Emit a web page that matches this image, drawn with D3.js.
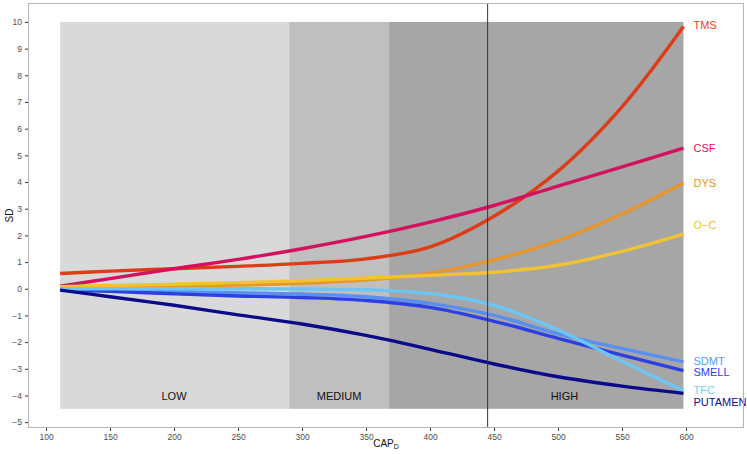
<!DOCTYPE html>
<html><head><meta charset="utf-8">
<script src="https://cdn.jsdelivr.net/npm/d3@7"></script>
<style>body{margin:0;background:#fff}svg{display:block;font-family:"Liberation Sans",Arial,sans-serif}</style>
</head><body><svg id="c" width="747" height="454"></svg>
<script>
const xs = [111, 150, 200, 250, 300, 350, 400, 450, 500, 550, 598];
const seriesNames = ["TMS","CSF","DYS","O\u2212C","SDMT","SMELL","TFC","PUTAMEN"];
const TMS     = [0.57, 0.66, 0.75, 0.84, 0.95, 1.12, 1.57, 2.72, 4.41, 6.82, 9.83];
const CSF     = [0.10, 0.38, 0.75, 1.10, 1.50, 1.96, 2.50, 3.12, 3.85, 4.57, 5.27];
const DYS     = [0.05, 0.07, 0.10, 0.14, 0.20, 0.33, 0.58, 1.08, 1.80, 2.80, 3.96];
const OC      = [0.08, 0.12, 0.17, 0.23, 0.30, 0.40, 0.50, 0.62, 0.88, 1.40, 2.05];
const SDMT    = [-0.03, -0.06, -0.10, -0.15, -0.20, -0.30, -0.55, -1.00, -1.69, -2.24, -2.74];
const SMELL   = [-0.03, -0.10, -0.19, -0.27, -0.33, -0.44, -0.70, -1.22, -1.86, -2.49, -3.07];
const TFC     = [-0.01, 0.00, 0.00, 0.00, -0.01, -0.04, -0.18, -0.62, -1.54, -2.72, -3.82];
const PUTAMEN = [-0.05, -0.30, -0.62, -0.98, -1.32, -1.75, -2.27, -2.82, -3.30, -3.65, -3.92];
const seriesValues = [TMS, CSF, DYS, OC, SDMT, SMELL, TFC, PUTAMEN];
const seriesColors = ["#dc3d17","#d3115e","#e8952c","#f1c232","#5a8ff2","#2c3fe3","#6cc5f7","#0b0b8a"];
const labelColors  = ["#e0451f","#d3115e","#e8952c","#f1c232","#5a9af5","#2c3fe3","#7ccbf7","#0b0b8a"];
const labelValues  = [9.83, 5.24, 3.92, 2.35, -2.75, -3.16, -3.83, -4.29];
const regionNames = ["LOW","MEDIUM","HIGH"];
const regionBounds = [111, 290, 368, 598];
const regionLabelX = [200, 329, 505];
const regionColors = ["#d9d9d9","#bfbfbf","#a6a6a6"];
const regionTop = 10, regionBottom = -4.5, regionLabelY = -4.05;
const cutoff = 445;
const xTicks = [100,150,200,250,300,350,400,450,500,550,600];
const yTicks = [-5,-4,-3,-2,-1,0,1,2,3,4,5,6,7,8,9,10];

const svg = d3.select("#c");
const L = 28, R = 744, T = 3, B = 428;
const x = d3.scaleLinear().domain([85.9, 645.3]).range([L, R]);
const y = d3.scaleLinear().domain([-5.22, 10.71]).range([B, T]);

// regions
regionNames.forEach((n,i)=>{
  svg.append("rect").attr("x", x(regionBounds[i])).attr("width", x(regionBounds[i+1]) - x(regionBounds[i]))
    .attr("y", y(regionTop)).attr("height", y(regionBottom) - y(regionTop)).attr("fill", regionColors[i]);
  svg.append("text").attr("x", x(regionLabelX[i])).attr("y", y(regionLabelY))
    .attr("text-anchor","middle").attr("dominant-baseline","middle").attr("font-size", 11).attr("fill","#111").text(n);
});

// lines
const line = d3.line().x((d,i)=>x(xs[i])).y(d=>y(d)).curve(d3.curveCatmullRom.alpha(0.5));
seriesValues.forEach((vals,k)=>{
  svg.append("path").attr("d", line(vals)).attr("fill","none").attr("stroke", seriesColors[k])
    .attr("stroke-width", 3.4).attr("stroke-linecap","butt");
});
// cutoff line
svg.append("line").attr("x1", x(cutoff)).attr("x2", x(cutoff)).attr("y1", T).attr("y2", B)
  .attr("stroke","#333").attr("stroke-width",1);

// labels
seriesNames.forEach((n,k)=>{
  svg.append("text").attr("x", x(598) + 10).attr("y", y(labelValues[k])).attr("dominant-baseline","middle")
    .attr("font-size", 11).attr("fill", labelColors[k]).text(n);
});

// panel border
svg.append("rect").attr("x", L+0.5).attr("y", T+0.5).attr("width", R-L-1).attr("height", B-T-1)
  .attr("fill","none").attr("stroke","#b5b5b5").attr("stroke-width",1);

// axes
const gx = svg.append("g").attr("transform", `translate(0,${B})`)
  .call(d3.axisBottom(x).tickValues(xTicks).tickSize(3).tickPadding(3));
const gy = svg.append("g").attr("transform", `translate(${L},0)`)
  .call(d3.axisLeft(y).tickValues(yTicks).tickSize(3).tickPadding(3).tickFormat(d=> d<0 ? "\u2212"+Math.abs(d) : d));
[gx,gy].forEach(g=>{
  g.select(".domain").remove();
  g.selectAll(".tick line").attr("stroke","#333");
  g.selectAll(".tick text").attr("fill","#4d4d4d").attr("font-size",8.5).attr("font-family","Liberation Sans, Arial, sans-serif");
});

// axis titles
svg.append("text").attr("transform", `translate(10,${(T+B)/2}) rotate(-90)`).attr("text-anchor","middle")
  .attr("dominant-baseline","middle").attr("font-size",10).attr("fill","#111").text("SD");
const xt = svg.append("text").attr("x", (L+R)/2).attr("y", 447).attr("text-anchor","middle")
  .attr("font-size",10).attr("fill","#111");
xt.append("tspan").text("CAP");
xt.append("tspan").attr("font-size",7).attr("dy",2).text("D");
</script></body></html>
